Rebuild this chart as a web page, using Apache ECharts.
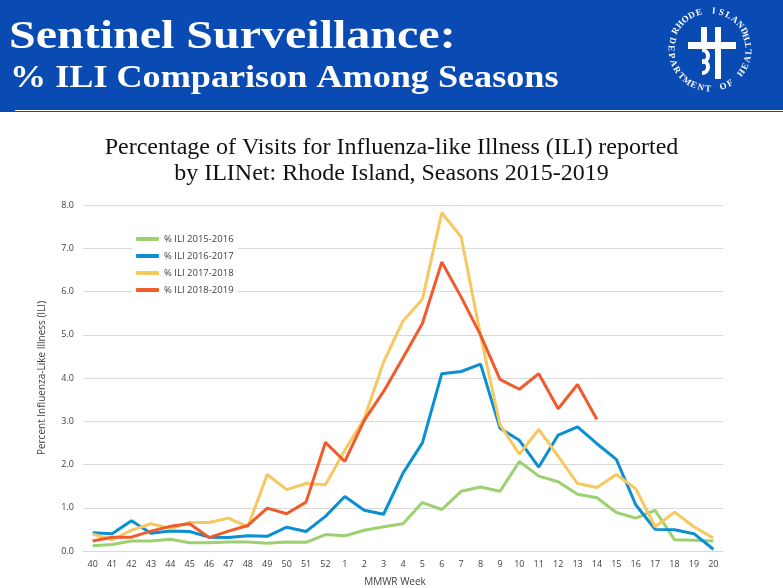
<!DOCTYPE html>
<html lang="en">
<head>
    <meta charset="utf-8">
    <title>% ILI Comparison Among Seasons</title>
    <script src="https://cdn.jsdelivr.net/npm/echarts@6/dist/echarts.min.js"></script>
    <style>
        html, body { margin: 0; padding: 0; background: #fff; }
        #main { width: 783px; height: 588px; }
    </style>
</head>
<body>
<div id="main"></div>
<script type="text/javascript">
    // MMWR weeks, season runs week 40 to week 20
    var weeks = ['40', '41', '42', '43', '44', '45', '46', '47', '48', '49', '50', '51', '52',
        '1', '2', '3', '4', '5', '6', '7', '8', '9', '10', '11', '12', '13', '14', '15', '16', '17', '18', '19', '20'];

    var ili1516 = [0.12, 0.15, 0.23, 0.23, 0.27, 0.19, 0.19, 0.21, 0.21, 0.18, 0.21, 0.20, 0.38,
        0.35, 0.48, 0.56, 0.63, 1.12, 0.96, 1.38, 1.48, 1.38, 2.07, 1.73, 1.60, 1.31, 1.23, 0.89, 0.76, 0.94, 0.26, 0.25, 0.23];
    var ili1617 = [0.42, 0.40, 0.70, 0.41, 0.46, 0.45, 0.32, 0.31, 0.35, 0.34, 0.55, 0.45, 0.80,
        1.26, 0.94, 0.85, 1.80, 2.50, 4.10, 4.15, 4.32, 2.84, 2.56, 1.94, 2.68, 2.87, 2.48, 2.12, 1.07, 0.50, 0.49, 0.40, 0.04];
    var ili1718 = [0.39, 0.26, 0.48, 0.63, 0.52, 0.66, 0.66, 0.76, 0.56, 1.77, 1.42, 1.56, 1.53,
        2.33, 3.06, 4.37, 5.32, 5.82, 7.82, 7.26, 4.98, 2.92, 2.24, 2.81, 2.19, 1.56, 1.47, 1.77, 1.44, 0.56, 0.90, 0.56, 0.30];
    var ili1819 = [0.23, 0.32, 0.32, 0.46, 0.57, 0.63, 0.31, 0.46, 0.59, 0.99, 0.86, 1.13, 2.51,
        2.07, 3.02, 3.69, 4.47, 5.26, 6.68, 5.87, 4.99, 3.97, 3.74, 4.10, 3.29, 3.85, 3.04, null, null, null, null, null, null];

    var seriesNames = ['% ILI 2015-2016', '% ILI 2016-2017', '% ILI 2017-2018', '% ILI 2018-2019'];
    var seriesColors = ['#9dd06f', '#0a8fd2', '#f6c85f', '#f15a2b'];
    var seriesData = [ili1516, ili1617, ili1718, ili1819];

    var myChart = echarts.init(document.getElementById('main'));

    // letters round the logo ring
    var logoX = 710, logoY = 50, logoR = 39;
    function ringText(str, startDeg, stepDeg, bottom) {
        var out = [];
        for (var i = 0; i < str.length; i++) {
            if (str[i] === ' ') continue;
            var phi = startDeg + i * stepDeg;
            var rad = phi * Math.PI / 180;
            var turn = bottom ? phi - 180 : phi;
            out.push({
                type: 'text',
                x: logoX + logoR * Math.sin(rad),
                y: logoY - logoR * Math.cos(rad),
                rotation: -turn * Math.PI / 180,
                style: {
                    text: str[i],
                    fill: '#fff',
                    font: 'bold 9px "Liberation Serif"',
                    textAlign: 'center',
                    textVerticalAlign: 'middle',
                    align: 'center',
                    verticalAlign: 'middle'
                }
            });
        }
        return out;
    }

    var graphics = [
        {type: 'rect', shape: {x: 0, y: 0, width: 783, height: 112}, style: {fill: '#0a4ab3'}},
        {type: 'rect', shape: {x: 15, y: 110, width: 768, height: 1}, style: {fill: '#fff'}},
        {
            type: 'text', x: 9, y: 58, scaleX: 1.2,
            style: {text: 'Sentinel Surveillance:', fill: '#fff', font: 'bold 40px "Liberation Serif"', textVerticalAlign: 'bottom', verticalAlign: 'bottom'}
        },
        {
            type: 'text', x: 10, y: 95, scaleX: 1.13,
            style: {text: '% ILI Comparison Among Seasons', fill: '#fff', font: 'bold 32px "Liberation Serif"', textVerticalAlign: 'bottom', verticalAlign: 'bottom'}
        },
        // logo mark
        {type: 'rect', shape: {x: 701, y: 27, width: 6, height: 17}, style: {fill: '#fff'}},
        {type: 'rect', shape: {x: 715, y: 27, width: 6, height: 52}, style: {fill: '#fff'}},
        {type: 'rect', shape: {x: 688, y: 42, width: 48, height: 7}, style: {fill: '#fff'}},
        {type: 'arc', shape: {cx: 702, cy: 56, r: 6, startAngle: -Math.PI / 2, endAngle: Math.PI / 2}, style: {stroke: '#fff', lineWidth: 4, fill: 'none'}},
        {type: 'arc', shape: {cx: 702, cy: 67, r: 6, startAngle: -Math.PI / 2, endAngle: Math.PI / 2}, style: {stroke: '#fff', lineWidth: 4, fill: 'none'}}
    ];
    graphics = graphics.concat(ringText('RHODE ISLAND', -61, 11.1, false));
    graphics = graphics.concat(ringText('DEPARTMENT OF HEALTH', -76, -11.26, true));

    var option = {
        backgroundColor: '#fff',
        animation: false,
        graphic: graphics,
        title: {
            text: 'Percentage of Visits for Influenza-like Illness (ILI) reported\nby ILINet: Rhode Island, Seasons 2015-2019',
            left: 'center',
            top: 130,
            textStyle: {
                fontFamily: 'Liberation Serif',
                fontWeight: 'normal',
                fontSize: 24,
                lineHeight: 26,
                color: '#111'
            }
        },
        legend: {
            orient: 'vertical',
            left: 132,
            top: 232,
            padding: [1, 4],
            itemGap: 5,
            itemWidth: 23,
            itemHeight: 4,
            itemTextGap: 4,
            icon: 'roundRect',
            backgroundColor: '#fff',
            textStyle: {fontFamily: 'Open Sans', fontSize: 9.5, color: '#404040', lineHeight: 12},
            data: seriesNames
        },
        grid: {left: 83, right: 60, top: 205, bottom: 37, outerBoundsMode: 'none'},
        xAxis: {
            type: 'category',
            data: weeks,
            boundaryGap: true,
            name: 'MMWR Week',
            nameLocation: 'middle',
            nameGap: 26,
            nameTextStyle: {fontFamily: 'Open Sans', fontSize: 10, color: '#404040', padding: [0, 16, 0, 0]},
            axisLine: {lineStyle: {color: '#d9d9d9'}},
            axisTick: {show: false},
            axisLabel: {fontFamily: 'Open Sans', fontSize: 9, color: '#404040', margin: 9, interval: 0}
        },
        yAxis: {
            type: 'value',
            min: 0,
            max: 8,
            interval: 1,
            name: 'Percent Influenza-Like Illness (ILI)',
            nameLocation: 'middle',
            nameGap: 36,
            nameTextStyle: {fontFamily: 'Open Sans', fontSize: 10, color: '#404040'},
            axisLine: {show: false},
            axisTick: {show: false},
            splitLine: {lineStyle: {color: '#d9d9d9', width: 1}},
            axisLabel: {
                fontFamily: 'Open Sans', fontSize: 9, color: '#404040', margin: 9,
                formatter: function (v) { return v.toFixed(1); }
            }
        },
        series: seriesNames.map(function (name, i) {
            return {
                name: name,
                type: 'line',
                data: seriesData[i],
                symbol: 'none',
                connectNulls: false,
                color: seriesColors[i],
                lineStyle: {width: 3, color: seriesColors[i]},
                itemStyle: {color: seriesColors[i]}
            };
        })
    };

    myChart.setOption(option);
</script>
</body>
</html>
